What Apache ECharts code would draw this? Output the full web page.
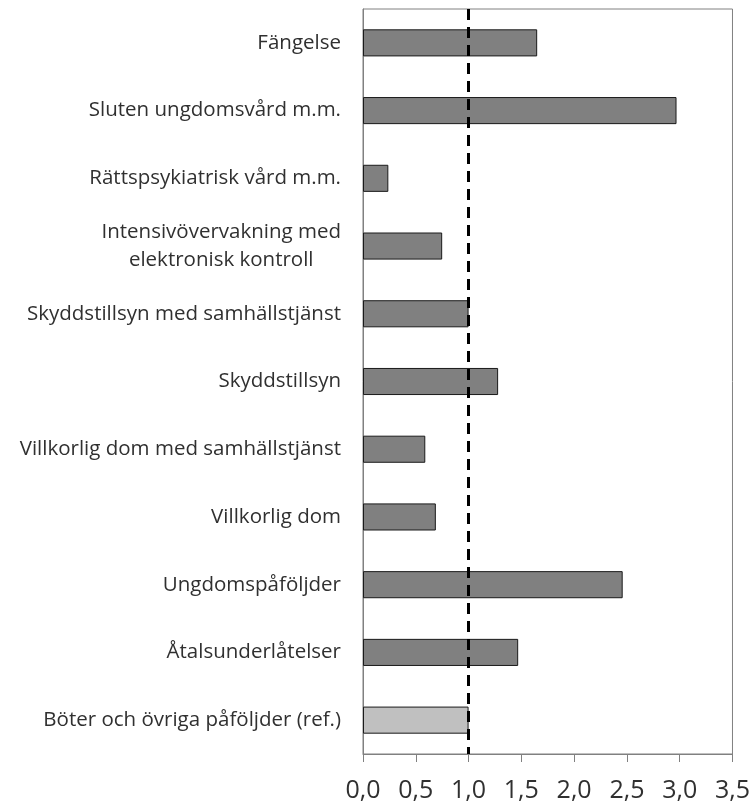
<!DOCTYPE html>
<html>
<head>
<meta charset="utf-8">
<script src="https://cdn.jsdelivr.net/npm/echarts@6/dist/echarts.min.js"></script>
<style>html,body{margin:0;padding:0;background:#fff}#c{width:753px;height:803px}</style>
</head>
<body>
<div id="c"></div>
<script>
var categories = [
  'Fängelse',
  'Sluten ungdomsvård m.m.',
  'Rättspsykiatrisk vård m.m.',
  'Intensivövervakning med\nelektronisk kontroll',
  'Skyddstillsyn med samhällstjänst',
  'Skyddstillsyn',
  'Villkorlig dom med samhällstjänst',
  'Villkorlig dom',
  'Ungdomspåföljder',
  'Åtalsunderlåtelser',
  'Böter och övriga påföljder (ref.)'
];
var values = [1.65, 2.97, 0.24, 0.75, 1.0, 1.28, 0.59, 0.69, 2.46, 1.47, 1.0];
var isReference = [false, false, false, false, false, false, false, false, false, false, true];
var referenceLine = 1.0;
var xMin = 0, xMax = 3.5, xStep = 0.5;

var chart = echarts.init(document.getElementById('c'), null, {renderer: 'canvas'});
var data = values.map(function (v, i) {
  return {value: v, itemStyle: {color: isReference[i] ? '#c0c0c0' : '#808080'}};
});
chart.setOption({
  animation: false,
  grid: {left: 363, right: 18, top: 9, bottom: 49, show: true, borderColor: '#808080', borderWidth: 1, backgroundColor: 'transparent'},
  xAxis: {
    type: 'value', min: xMin, max: xMax, interval: xStep,
    splitLine: {show: false},
    axisLine: {show: true, lineStyle: {color: '#808080', width: 1}},
    axisTick: {show: true, length: 8, lineStyle: {color: '#808080'}},
    axisLabel: {
      margin: 24, color: '#303030', fontFamily: 'Open Sans', fontSize: 25,
      formatter: function (v) { return v.toFixed(1).replace('.', ','); }
    }
  },
  yAxis: {
    type: 'category', data: categories, inverse: true,
    axisLine: {show: true, lineStyle: {color: '#808080'}},
    axisTick: {show: false},
    axisLabel: {
      margin: 22, color: '#303030', fontFamily: 'Open Sans', fontSize: 20.5, lineHeight: 28,
      formatter: function (v) {
        return v.split('\n').map(function (l) { return '{c|' + l + '}'; }).join('\n');
      },
      rich: {c: {align: 'center', fontFamily: 'Open Sans', fontSize: 20.5, color: '#303030', lineHeight: 28}}
    }
  },
  series: [{
    type: 'bar', data: data, barWidth: '40%',
    itemStyle: {borderColor: '#1a1a1a', borderWidth: 1},
    markLine: {
      silent: true, symbol: 'none', label: {show: false},
      lineStyle: {color: '#000', type: [11, 7], width: 3},
      data: [{xAxis: referenceLine}]
    }
  }]
});
</script>
</body>
</html>
